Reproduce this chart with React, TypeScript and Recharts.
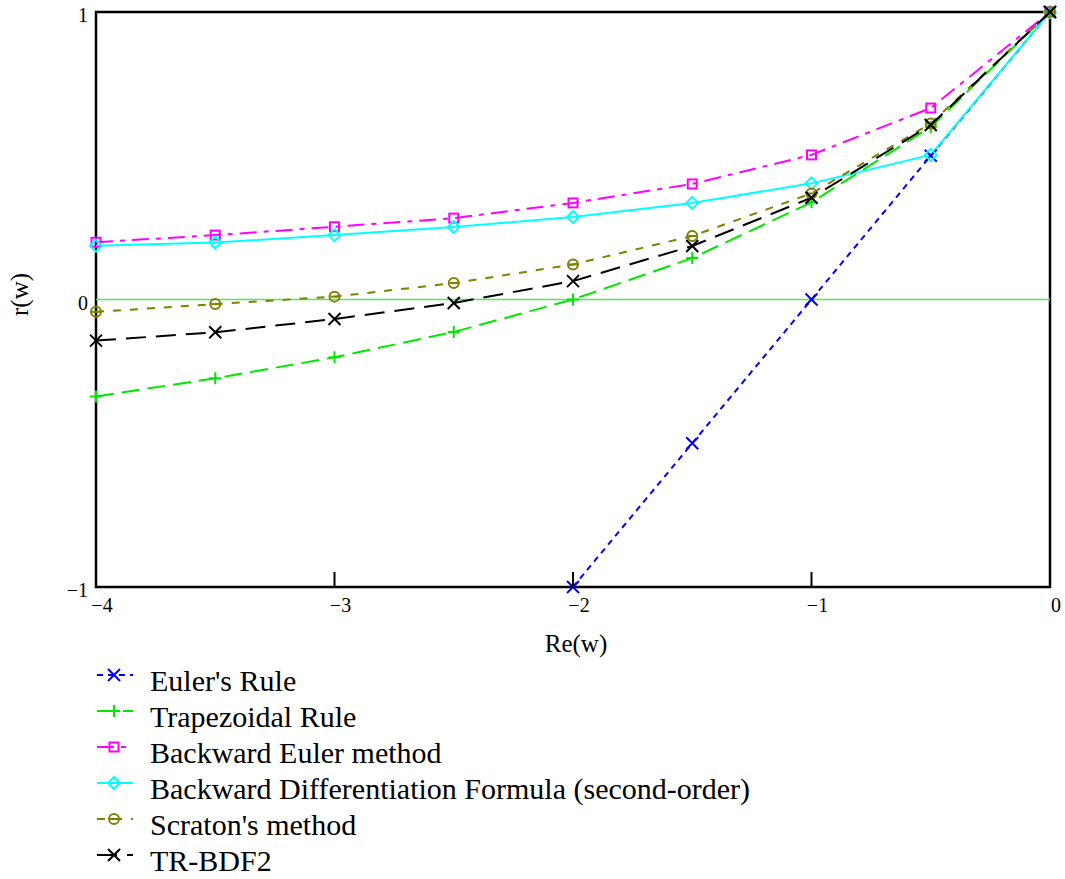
import React from "react";
import {
  LineChart,
  Line,
  XAxis,
  YAxis,
  ReferenceLine,
  ReferenceArea,
  Legend,
  Label,
} from "recharts";

const xValues = [-4, -3.5, -3, -2.5, -2, -1.5, -1, -0.5, 0];
const eulerRule = [null, null, null, null, -1, -0.5, 0, 0.5, 1];
const trapezoidalRule = [-0.337, -0.274, -0.201, -0.113, 0, 0.144, 0.338, 0.6, 1];
const backwardEuler = [0.199, 0.224, 0.253, 0.283, 0.336, 0.402, 0.503, 0.666, 1];
const bdf2 = [0.187, 0.198, 0.224, 0.252, 0.287, 0.336, 0.404, 0.503, 1];
const scraton = [-0.043, -0.016, 0.01, 0.057, 0.122, 0.221, 0.369, 0.612, 1];
const trBdf2 = [-0.143, -0.114, -0.068, -0.012, 0.064, 0.186, 0.354, 0.607, 1];

const xTicks = [-4, -3, -2, -1, 0];
const yTicks = [-1, 0, 1];

type MarkerKind = "x" | "plus" | "square" | "diamond" | "circle";

const seriesDefs: {
  key: string;
  name: string;
  color: string;
  dash?: string;
  marker: MarkerKind;
  values: (number | null)[];
}[] = [
  { key: "euler", name: "Euler's Rule", color: "#0000ff", dash: "6 5", marker: "x", values: eulerRule },
  { key: "trap", name: "Trapezoidal Rule", color: "#00e800", dash: "18 8", marker: "plus", values: trapezoidalRule },
  { key: "beuler", name: "Backward Euler method", color: "#ff00ff", dash: "17 7 5 7", marker: "square", values: backwardEuler },
  { key: "bdf2", name: "Backward Differentiation Formula (second-order)", color: "#00ffff", marker: "diamond", values: bdf2 },
  { key: "scraton", name: "Scraton's method", color: "#808000", dash: "8 9", marker: "circle", values: scraton },
  { key: "trbdf2", name: "TR-BDF2", color: "#000000", dash: "20 10", marker: "x", values: trBdf2 },
];

const data = xValues.map((x, i) => {
  const row: Record<string, number | null> = { x };
  seriesDefs.forEach((s) => {
    row[s.key] = s.values[i];
  });
  return row;
});

const FONT = "'Liberation Serif', 'Times New Roman', serif";
const PLOT_BOTTOM = 587;

function Marker({ kind, cx, cy, color }: { kind: MarkerKind; cx: number; cy: number; color: string }) {
  const sw = 2;
  switch (kind) {
    case "x":
      return (
        <path
          d={`M${cx - 6},${cy - 6}L${cx + 6},${cy + 6}M${cx - 6},${cy + 6}L${cx + 6},${cy - 6}`}
          stroke={color}
          strokeWidth={sw}
          fill="none"
        />
      );
    case "plus":
      return (
        <path
          d={`M${cx - 6},${cy}L${cx + 6},${cy}M${cx},${cy - 6}L${cx},${cy + 6}`}
          stroke={color}
          strokeWidth={sw}
          fill="none"
        />
      );
    case "square":
      return <rect x={cx - 4.5} y={cy - 4.5} width={9} height={9} stroke={color} strokeWidth={sw} fill="none" />;
    case "diamond":
      return (
        <path
          d={`M${cx},${cy - 6}L${cx + 6},${cy}L${cx},${cy + 6}L${cx - 6},${cy}Z`}
          stroke={color}
          strokeWidth={sw}
          fill="none"
        />
      );
    case "circle":
      return (
        <g>
          <circle cx={cx} cy={cy} r={5} stroke={color} strokeWidth={sw} fill="none" />
          <line x1={cx - 4} x2={cx + 4} y1={cy} y2={cy} stroke={color} strokeWidth={sw} />
        </g>
      );
  }
  return null;
}

function makeDot(kind: MarkerKind, color: string) {
  return (p: any) => {
    const k = `${p.dataKey}-${p.index}`;
    if (p.cx == null || p.cy == null || p.value == null || Number.isNaN(p.cy)) return <g key={k} />;
    return (
      <g key={k}>
        <Marker kind={kind} cx={p.cx} cy={p.cy} color={color} />
      </g>
    );
  };
}

function XTick(p: any) {
  const x = p.payload.coordinate ?? p.x;
  return (
    <g>
      <line x1={x} x2={x} y1={PLOT_BOTTOM} y2={PLOT_BOTTOM - 15} stroke="#000" strokeWidth={2} />
      <text x={x + 6} y={PLOT_BOTTOM + 25} textAnchor="middle" fontFamily={FONT} fontSize={20} fill="#000">
        {String(p.payload.value).replace("-", "\u2212")}
      </text>
    </g>
  );
}

function YTick(p: any) {
  const y = p.payload.coordinate ?? p.y;
  return (
    <text x={88} y={y + 10} textAnchor="end" fontFamily={FONT} fontSize={20} fill="#000">
      {String(p.payload.value).replace("-", "\u2212")}
    </text>
  );
}

function LegendContent() {
  return (
    <svg width={800} height={220} style={{ display: "block", overflow: "visible" }}>
      {seriesDefs.map((s, i) => {
        const base = 31 + i * 36;
        const my = base - 16;
        return (
          <g key={s.key}>
            <line x1={97} x2={133} y1={my} y2={my} stroke={s.color} strokeWidth={2} strokeDasharray={s.dash} />
            <Marker kind={s.marker} cx={114} cy={my} color={s.color} />
            <text x={150} y={base} fontFamily={FONT} fontSize={30} fill="#000">
              {s.name}
            </text>
          </g>
        );
      })}
    </svg>
  );
}

export default function App() {
  return (
    <div style={{ position: "absolute", left: 0, top: 0, width: 1065, height: 879, background: "#fff" }}>
      <LineChart
        width={1065}
        height={879}
        data={data}
        margin={{ top: 12, right: 15, bottom: 227, left: 36 }}
      >
        <XAxis
          dataKey="x"
          type="number"
          domain={[-4, 0]}
          ticks={xTicks}
          axisLine={false}
          tickLine={false}
          tick={<XTick />}
          height={65}
          interval={0}
        >
          <Label
            content={(props: any) => {
              const vb = props.viewBox || { x: 96, width: 954 };
              return (
                <text
                  x={vb.x + vb.width / 2 + 3}
                  y={652}
                  textAnchor="middle"
                  fontFamily={FONT}
                  fontSize={25}
                  fill="#000"
                >
                  Re(w)
                </text>
              );
            }}
          />
        </XAxis>
        <YAxis
          type="number"
          domain={[-1, 1]}
          ticks={yTicks}
          axisLine={false}
          tickLine={false}
          tick={<YTick />}
          width={60}
          interval={0}
        >
          <Label
            content={(props: any) => {
              const vb = props.viewBox || { y: 12, height: 575 };
              const cy = vb.y + vb.height / 2 - 5;
              return (
                <text
                  x={28}
                  y={cy}
                  transform={`rotate(-90 28 ${cy})`}
                  textAnchor="middle"
                  fontFamily={FONT}
                  fontSize={25}
                  fill="#000"
                >
                  r(w)
                </text>
              );
            }}
          />
        </YAxis>
        <ReferenceLine y={0} stroke="#55e855" strokeWidth={1.5} ifOverflow="visible" />
        {seriesDefs.map((s) => (
          <Line
            key={s.key}
            dataKey={s.key}
            name={s.name}
            stroke={s.color}
            strokeWidth={2}
            strokeDasharray={s.dash}
            dot={makeDot(s.marker, s.color)}
            activeDot={false}
            isAnimationActive={false}
            connectNulls={false}
            type="linear"
          />
        ))}
        <ReferenceArea
          x1={-4}
          x2={0}
          y1={-1}
          y2={1}
          fill="none"
          fillOpacity={0}
          stroke="#000"
          strokeWidth={2.5}
          ifOverflow="visible"
        />
        <Legend
          layout="horizontal"
          align="center"
          verticalAlign="middle"
          content={<LegendContent />}
          wrapperStyle={{ position: "absolute", top: 660, left: 0, width: 1065, height: 220 }}
        />
      </LineChart>
    </div>
  );
}
